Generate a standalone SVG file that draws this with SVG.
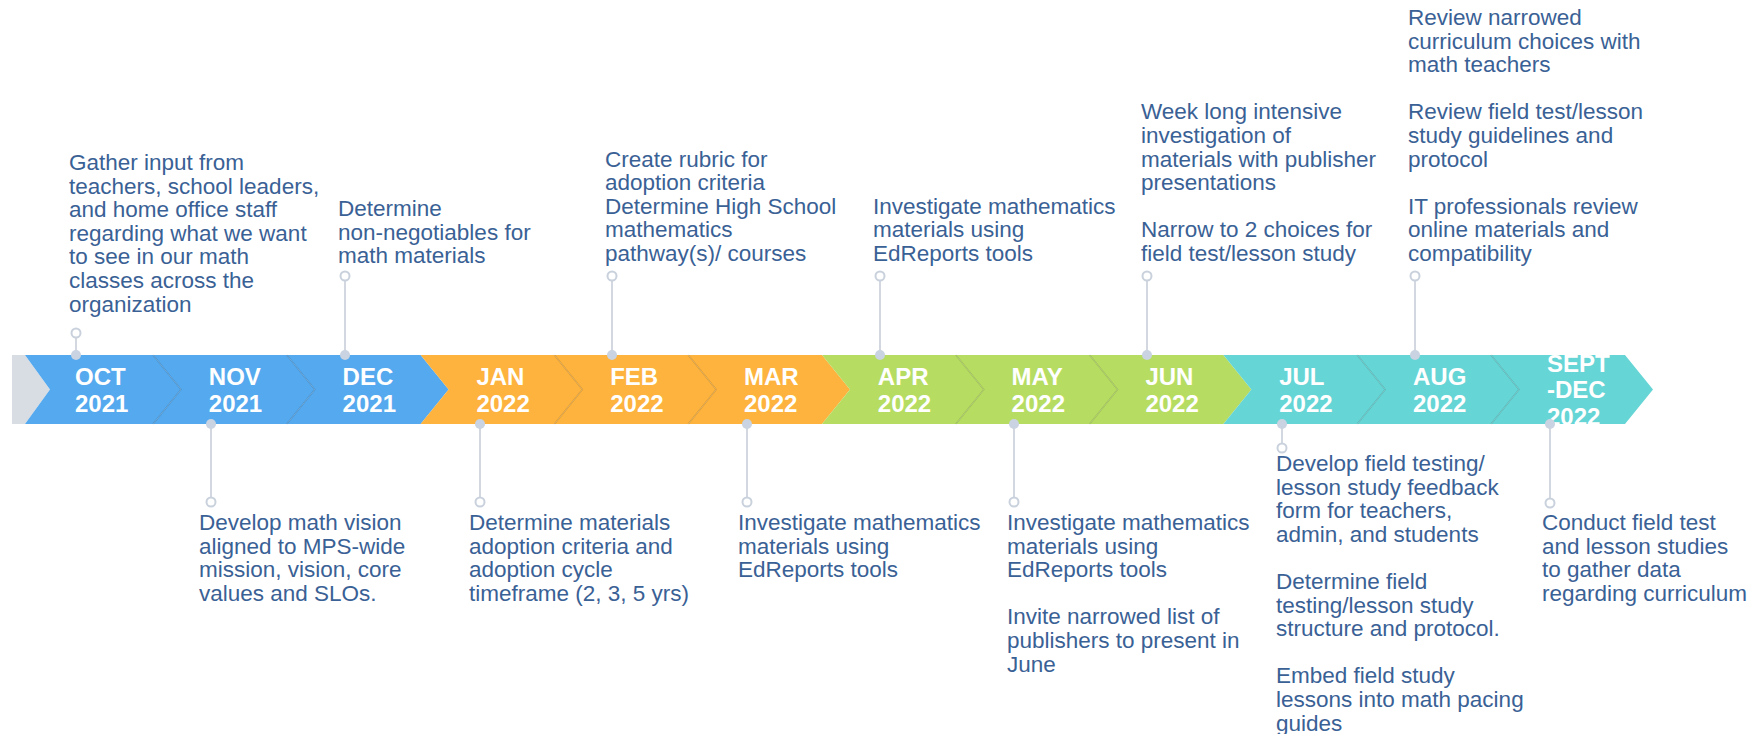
<svg xmlns="http://www.w3.org/2000/svg" width="1754" height="734" viewBox="0 0 1754 734">
<defs>
<style>
.t{font-family:"Liberation Sans",Arial,sans-serif;font-size:22.5px;fill:#3a6195}
.m{font-family:"Liberation Sans",Arial,sans-serif;font-size:24px;font-weight:bold;fill:#ffffff}
.blue{fill:#55a9ee}.orange{fill:#fdb33d}.green{fill:#b6dd62}.teal{fill:#66d5d6}
.edge{fill:none;stroke:#000;stroke-opacity:0.12;stroke-width:1.5}
.ln{stroke:#d3d8e0;stroke-width:2;fill:none}
.oc{fill:#fff;stroke:#c9d1dc;stroke-width:2}
.dot{fill:#c9d3e1}
</style>
<clipPath id="bandclip"><rect x="0" y="355" width="1754" height="69"/></clipPath>
</defs>
<rect width="1754" height="734" fill="#ffffff"/>
<g id="band">
<polygon points="12,355 25,355 50,389.5 25,424 12,424" fill="#d8dde3"/>
<polygon class="blue" points="25,355 153,355 181,389.5 153,424 25,424 50,389.5"/>
<polygon class="blue" points="153,355 286.8,355 314.8,389.5 286.8,424 153,424 181,389.5"/>
<polygon class="blue" points="286.8,355 420.6,355 448.6,389.5 420.6,424 286.8,424 314.8,389.5"/>
<polygon class="orange" points="420.6,355 554.4,355 582.4,389.5 554.4,424 420.6,424 448.6,389.5"/>
<polygon class="orange" points="554.4,355 688.2,355 716.2,389.5 688.2,424 554.4,424 582.4,389.5"/>
<polygon class="orange" points="688.2,355 822,355 850,389.5 822,424 688.2,424 716.2,389.5"/>
<polygon class="green" points="822,355 955.8,355 983.8,389.5 955.8,424 822,424 850,389.5"/>
<polygon class="green" points="955.8,355 1089.6,355 1117.6,389.5 1089.6,424 955.8,424 983.8,389.5"/>
<polygon class="green" points="1089.6,355 1223.4,355 1251.4,389.5 1223.4,424 1089.6,424 1117.6,389.5"/>
<polygon class="teal" points="1223.4,355 1357.2,355 1385.2,389.5 1357.2,424 1223.4,424 1251.4,389.5"/>
<polygon class="teal" points="1357.2,355 1491,355 1519,389.5 1491,424 1357.2,424 1385.2,389.5"/>
<polygon class="teal" points="1491,355 1625,355 1653,389.5 1625,424 1491,424 1519,389.5"/>
<polyline class="edge" points="153,355 181,389.5 153,424"/>
<polyline class="edge" points="286.8,355 314.8,389.5 286.8,424"/>
<polyline class="edge" points="554.4,355 582.4,389.5 554.4,424"/>
<polyline class="edge" points="688.2,355 716.2,389.5 688.2,424"/>
<polyline class="edge" points="955.8,355 983.8,389.5 955.8,424"/>
<polyline class="edge" points="1089.6,355 1117.6,389.5 1089.6,424"/>
<polyline class="edge" points="1357.2,355 1385.2,389.5 1357.2,424"/>
<polyline class="edge" points="1491,355 1519,389.5 1491,424"/>
<g clip-path="url(#bandclip)">
<text class="m"><tspan x="75" y="385">OCT</tspan><tspan x="75" y="412">2021</tspan></text>
<text class="m"><tspan x="208.8" y="385">NOV</tspan><tspan x="208.8" y="412">2021</tspan></text>
<text class="m"><tspan x="342.6" y="385">DEC</tspan><tspan x="342.6" y="412">2021</tspan></text>
<text class="m"><tspan x="476.4" y="385">JAN</tspan><tspan x="476.4" y="412">2022</tspan></text>
<text class="m"><tspan x="610.2" y="385">FEB</tspan><tspan x="610.2" y="412">2022</tspan></text>
<text class="m"><tspan x="744" y="385">MAR</tspan><tspan x="744" y="412">2022</tspan></text>
<text class="m"><tspan x="877.8" y="385">APR</tspan><tspan x="877.8" y="412">2022</tspan></text>
<text class="m"><tspan x="1011.6" y="385">MAY</tspan><tspan x="1011.6" y="412">2022</tspan></text>
<text class="m"><tspan x="1145.4" y="385">JUN</tspan><tspan x="1145.4" y="412">2022</tspan></text>
<text class="m"><tspan x="1279.2" y="385">JUL</tspan><tspan x="1279.2" y="412">2022</tspan></text>
<text class="m"><tspan x="1413" y="385">AUG</tspan><tspan x="1413" y="412">2022</tspan></text>
<text class="m"><tspan x="1547" y="372">SEPT</tspan><tspan x="1547" y="398">-DEC</tspan><tspan x="1547" y="425">2022</tspan></text>
</g>
</g>
<g id="connectors">
<line class="ln" x1="76" y1="337" x2="76" y2="355"/>
<line class="ln" x1="345" y1="280" x2="345" y2="355"/>
<line class="ln" x1="612" y1="280" x2="612" y2="355"/>
<line class="ln" x1="880" y1="280" x2="880" y2="355"/>
<line class="ln" x1="1147" y1="280" x2="1147" y2="355"/>
<line class="ln" x1="1415" y1="280" x2="1415" y2="355"/>
<line class="ln" x1="211" y1="424" x2="211" y2="498"/>
<line class="ln" x1="480" y1="424" x2="480" y2="498"/>
<line class="ln" x1="747" y1="424" x2="747" y2="498"/>
<line class="ln" x1="1014" y1="424" x2="1014" y2="498"/>
<line class="ln" x1="1282" y1="424" x2="1282" y2="444"/>
<line class="ln" x1="1550" y1="424" x2="1550" y2="499"/>
<circle class="dot" cx="76" cy="355" r="5"/>
<circle class="dot" cx="345" cy="355" r="5"/>
<circle class="dot" cx="612" cy="355" r="5"/>
<circle class="dot" cx="880" cy="355" r="5"/>
<circle class="dot" cx="1147" cy="355" r="5"/>
<circle class="dot" cx="1415" cy="355" r="5"/>
<circle class="dot" cx="211" cy="424" r="5"/>
<circle class="dot" cx="480" cy="424" r="5"/>
<circle class="dot" cx="747" cy="424" r="5"/>
<circle class="dot" cx="1014" cy="424" r="5"/>
<circle class="dot" cx="1282" cy="424" r="5"/>
<circle class="dot" cx="1550" cy="424" r="5"/>
<circle class="oc" cx="76" cy="333" r="4.5"/>
<circle class="oc" cx="345" cy="276" r="4.5"/>
<circle class="oc" cx="612" cy="276" r="4.5"/>
<circle class="oc" cx="880" cy="276" r="4.5"/>
<circle class="oc" cx="1147" cy="276" r="4.5"/>
<circle class="oc" cx="1415" cy="276" r="4.5"/>
<circle class="oc" cx="211" cy="502" r="4.5"/>
<circle class="oc" cx="480" cy="502" r="4.5"/>
<circle class="oc" cx="747" cy="502" r="4.5"/>
<circle class="oc" cx="1014" cy="502" r="4.5"/>
<circle class="oc" cx="1282" cy="448" r="4.5"/>
<circle class="oc" cx="1550" cy="503" r="4.5"/>
</g>
<g id="oct">
<text class="t"><tspan x="69" y="170">Gather input from</tspan><tspan x="69" y="193.6">teachers, school leaders,</tspan><tspan x="69" y="217.2">and home office staff</tspan><tspan x="69" y="240.8">regarding what we want</tspan><tspan x="69" y="264.4">to see in our math</tspan><tspan x="69" y="288">classes across the</tspan><tspan x="69" y="311.6">organization</tspan></text>
</g>
<g id="dec">
<text class="t"><tspan x="338" y="216">Determine</tspan><tspan x="338" y="239.6">non-negotiables for</tspan><tspan x="338" y="263.2">math materials</tspan></text>
</g>
<g id="feb">
<text class="t"><tspan x="605" y="166.6">Create rubric for</tspan><tspan x="605" y="190.2">adoption criteria</tspan><tspan x="605" y="213.8">Determine High School</tspan><tspan x="605" y="237.4">mathematics</tspan><tspan x="605" y="261">pathway(s)/ courses</tspan></text>
</g>
<g id="apr">
<text class="t"><tspan x="873" y="213.8">Investigate mathematics</tspan><tspan x="873" y="237.4">materials using</tspan><tspan x="873" y="261">EdReports tools</tspan></text>
</g>
<g id="jun">
<text class="t"><tspan x="1141" y="119.4">Week long intensive</tspan><tspan x="1141" y="143">investigation of</tspan><tspan x="1141" y="166.6">materials with publisher</tspan><tspan x="1141" y="190.2">presentations</tspan><tspan x="1141" y="237.4">Narrow to 2 choices for</tspan><tspan x="1141" y="261">field test/lesson study</tspan></text>
</g>
<g id="aug">
<text class="t"><tspan x="1408" y="25">Review narrowed</tspan><tspan x="1408" y="48.6">curriculum choices with</tspan><tspan x="1408" y="72.2">math teachers</tspan><tspan x="1408" y="119.4">Review field test/lesson</tspan><tspan x="1408" y="143">study guidelines and</tspan><tspan x="1408" y="166.6">protocol</tspan><tspan x="1408" y="213.8">IT professionals review</tspan><tspan x="1408" y="237.4">online materials and</tspan><tspan x="1408" y="261">compatibility</tspan></text>
</g>
<g id="nov">
<text class="t"><tspan x="199" y="530">Develop math vision</tspan><tspan x="199" y="553.6">aligned to MPS-wide</tspan><tspan x="199" y="577.2">mission, vision, core</tspan><tspan x="199" y="600.8">values and SLOs.</tspan></text>
</g>
<g id="jan">
<text class="t"><tspan x="469" y="530">Determine materials</tspan><tspan x="469" y="553.6">adoption criteria and</tspan><tspan x="469" y="577.2">adoption cycle</tspan><tspan x="469" y="600.8">timeframe (2, 3, 5 yrs)</tspan></text>
</g>
<g id="mar">
<text class="t"><tspan x="738" y="530">Investigate mathematics</tspan><tspan x="738" y="553.6">materials using</tspan><tspan x="738" y="577.2">EdReports tools</tspan></text>
</g>
<g id="may">
<text class="t"><tspan x="1007" y="530">Investigate mathematics</tspan><tspan x="1007" y="553.6">materials using</tspan><tspan x="1007" y="577.2">EdReports tools</tspan><tspan x="1007" y="624.4">Invite narrowed list of</tspan><tspan x="1007" y="648">publishers to present in</tspan><tspan x="1007" y="671.6">June</tspan></text>
</g>
<g id="jul">
<text class="t"><tspan x="1276" y="471">Develop field testing/</tspan><tspan x="1276" y="494.6">lesson study feedback</tspan><tspan x="1276" y="518.2">form for teachers,</tspan><tspan x="1276" y="541.8">admin, and students</tspan><tspan x="1276" y="589">Determine field</tspan><tspan x="1276" y="612.6">testing/lesson study</tspan><tspan x="1276" y="636.2">structure and protocol.</tspan><tspan x="1276" y="683.4">Embed field study</tspan><tspan x="1276" y="707">lessons into math pacing</tspan><tspan x="1276" y="730.6">guides</tspan></text>
</g>
<g id="sept">
<text class="t"><tspan x="1542" y="530">Conduct field test</tspan><tspan x="1542" y="553.6">and lesson studies</tspan><tspan x="1542" y="577.2">to gather data</tspan><tspan x="1542" y="600.8">regarding curriculum</tspan></text>
</g>
</svg>
